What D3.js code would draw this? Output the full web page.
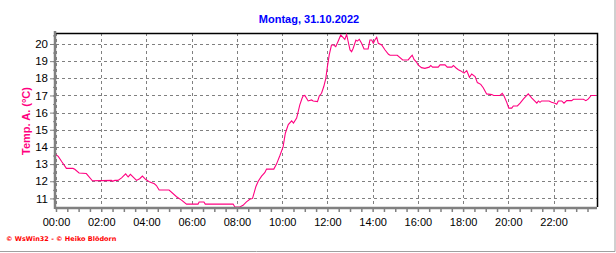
<!DOCTYPE html>
<html>
<head>
<meta charset="utf-8">
<script src="https://cdn.jsdelivr.net/npm/d3@7"></script>
<style>
  body { margin: 0; background: #fff; }
  svg { display: block; }
</style>
</head>
<body>
<svg id="chart" width="616" height="253"></svg>
<script>
// Uhrzeit in Stunden, Temperatur aussen in °C
const hours = [
  0.00, 0.10, 0.25, 0.46, 0.75, 0.83, 1.02, 1.34, 1.61, 2.45, 2.50, 2.60, 2.74, 2.90,
  3.08, 3.19, 3.29, 3.56, 3.70, 3.82, 3.97, 4.15, 4.35, 4.44, 4.56, 5.00, 5.33, 5.55,
  5.77, 6.28, 6.33, 6.54, 6.60, 7.83, 7.91, 8.13, 8.27, 8.42, 8.57, 8.69, 8.84, 8.94,
  9.09, 9.23, 9.31, 9.63, 9.75, 9.90, 10.04, 10.14, 10.27, 10.42, 10.50, 10.64, 10.78,
  10.88, 10.93, 11.00, 11.15, 11.30, 11.37, 11.56, 11.64, 11.74, 11.84, 11.93, 12.00,
  12.08, 12.18, 12.28, 12.37, 12.48, 12.59, 12.70, 12.77, 12.85, 12.92, 13.00, 13.07,
  13.14, 13.26, 13.32, 13.41, 13.51, 13.62, 13.80, 13.88, 13.96, 14.03, 14.10, 14.18,
  14.25, 14.40, 14.55, 14.70, 14.77, 15.09, 15.33, 15.57, 15.68, 15.75, 15.83, 15.94,
  16.01, 16.16, 16.31, 16.50, 16.57, 16.65, 16.90, 16.98, 17.20, 17.30, 17.50, 17.57,
  17.69, 17.79, 17.90, 18.04, 18.16, 18.28, 18.38, 18.53, 18.63, 18.78, 18.89, 19.04,
  19.27, 19.35, 19.63, 19.73, 19.81, 19.93, 20.02, 20.15, 20.22, 20.40, 20.52, 20.67,
  20.88, 21.04, 21.26, 21.33, 21.40, 21.47, 21.80, 21.91, 22.06, 22.14, 22.21, 22.36,
  22.46, 22.58, 22.80, 22.88, 23.32, 23.43, 23.54, 23.66, 23.88
];
const temps = [
  13.55, 13.45, 13.15, 12.75, 12.75, 12.70, 12.48, 12.45, 12.03, 12.05, 12.00, 12.05, 12.05, 12.20,
  12.43, 12.25, 12.40, 12.05, 12.15, 12.30, 12.10, 11.95, 11.85, 11.75, 11.49, 11.49, 11.10, 10.90,
  10.67, 10.67, 10.79, 10.79, 10.67, 10.67, 10.50, 10.50, 10.60, 10.80, 10.95, 11.00, 11.70, 12.00,
  12.30, 12.50, 12.71, 12.71, 13.00, 13.50, 14.00, 14.80, 15.30, 15.52, 15.39, 15.68, 16.45,
  16.84, 16.98, 17.00, 16.68, 16.74, 16.68, 16.64, 16.97, 17.13, 17.52, 18.00, 18.68,
  19.36, 19.94, 19.94, 19.84, 20.17, 20.52, 20.37, 20.27, 20.56, 20.13, 19.65, 19.55,
  19.75, 20.23, 20.17, 20.27, 20.04, 19.71, 19.71, 20.23, 20.23, 20.04, 20.23, 20.39,
  20.04, 19.94, 19.65, 19.40, 19.34, 19.34, 19.07, 19.07, 19.25, 19.35, 19.10, 18.95,
  18.78, 18.62, 18.58, 18.65, 18.75, 18.65, 18.65, 18.78, 18.78, 18.65, 18.65, 18.75,
  18.60, 18.50, 18.43, 18.30, 18.45, 18.06, 18.25, 18.10, 17.75, 17.65, 17.45, 17.09,
  17.05, 17.00, 17.00, 17.12, 16.97, 16.60, 16.26, 16.26, 16.39, 16.39, 16.55, 16.80,
  17.09, 16.85, 16.55, 16.68, 16.60, 16.68, 16.68, 16.60, 16.55, 16.49, 16.68, 16.68,
  16.55, 16.70, 16.70, 16.78, 16.78, 16.70, 16.80, 17.00, 17.00
];
const xTicks = [0, 2, 4, 6, 8, 10, 12, 14, 16, 18, 20, 22];
const yTicks = [11, 12, 13, 14, 15, 16, 17, 18, 19, 20];
const title = "Montag, 31.10.2022";
const yLabel = "Temp. A. (°C)";
const footer = "© WsWin32 - © Heiko Blödorn";

const svg = d3.select("#chart");
const pL = 56, pR = 597, pT = 33, pB = 207;

const x = d3.scaleLinear().domain([0, 23.92]).range([pL, pR]);
const y = d3.scaleLinear().domain([10.5, 20.64]).range([pB, pT]);

const pad = n => String(n).padStart(2, "0");

// Gitter
svg.append("g")
  .attr("transform", `translate(0,${pT})`)
  .call(d3.axisTop(x).tickValues(xTicks).tickSize(-(pB - pT)).tickFormat(""))
  .call(g => g.select(".domain").remove())
  .call(g => g.selectAll("line").attr("stroke", "#808080").attr("stroke-dasharray", "3,3")
    .attr("shape-rendering", "crispEdges"));

svg.append("g")
  .attr("transform", `translate(${pL},0)`)
  .call(d3.axisLeft(y).tickValues(yTicks).tickSize(-(pR - pL)).tickFormat(""))
  .call(g => g.select(".domain").remove())
  .call(g => g.selectAll("line").attr("stroke", "#808080").attr("stroke-dasharray", "3,3")
    .attr("shape-rendering", "crispEdges"));

// Rahmen oben / rechts
svg.append("path")
  .attr("d", `M${pL},${pT + 0.5}H${pR + 0.5}V${pB}`)
  .attr("fill", "none").attr("stroke", "#000").attr("stroke-width", 1.5);

// Kurve
const line = d3.line()
  .x((d, i) => x(hours[i]))
  .y(d => y(d));

svg.append("path")
  .datum(temps)
  .attr("d", line)
  .attr("fill", "none")
  .attr("stroke", "#ff0080")
  .attr("stroke-width", 1.1);

// x-Achse
const xMinor = d3.range(0, 24, 0.5);
svg.append("g").attr("transform", `translate(0,${pB + 1})`)
  .call(d3.axisBottom(x).tickValues(xMinor).tickSize(4).tickFormat(""))
  .call(g => g.selectAll("line").attr("stroke", "#808080").attr("stroke-width", 1.5))
  .call(g => g.select(".domain").attr("stroke", "#808080").attr("stroke-width", 2.5)
    .attr("d", `M${pL - 1},0H${pR}`));
svg.append("g").attr("transform", `translate(0,${pB + 1})`)
  .call(d3.axisBottom(x).tickValues(xTicks).tickSize(0).tickPadding(10)
    .tickFormat(d => pad(d) + ":00"))
  .call(g => g.select(".domain").remove())
  .call(g => g.selectAll("text").attr("fill", "#000")
    .attr("font-family", "'Liberation Sans', Arial, sans-serif").attr("font-size", 11));

// y-Achse
const yMinor = d3.range(11, 20.6, 0.5);
svg.append("g").attr("transform", `translate(${pL - 1},0)`)
  .call(d3.axisLeft(y).tickValues(yMinor).tickSize(2).tickFormat(""))
  .call(g => g.selectAll("line").attr("stroke", "#808080"))
  .call(g => g.select(".domain").attr("stroke", "#808080").attr("stroke-width", 2.5)
    .attr("d", `M0,${pT - 2}V${pB + 2}`));
svg.append("g").attr("transform", `translate(${pL - 1},0)`)
  .call(d3.axisLeft(y).tickValues(yTicks).tickSize(5).tickPadding(2).tickFormat(d => d))
  .call(g => g.select(".domain").remove())
  .call(g => g.selectAll("line").attr("stroke", "#808080"))
  .call(g => g.selectAll("text").attr("fill", "#000")
    .attr("font-family", "'Liberation Sans', Arial, sans-serif").attr("font-size", 11.5));

// Titel
svg.append("text")
  .attr("x", 309).attr("y", 23)
  .attr("text-anchor", "middle")
  .attr("font-family", "'Liberation Sans', Arial, sans-serif")
  .attr("font-size", 11).attr("font-weight", "bold")
  .attr("fill", "#0000ff")
  .text(title);

// Achsenbeschriftung
svg.append("text")
  .attr("transform", "translate(30,121) rotate(-90)")
  .attr("text-anchor", "middle")
  .attr("font-family", "'Liberation Sans', Arial, sans-serif")
  .attr("font-size", 11).attr("font-weight", "bold")
  .attr("fill", "#ff0080")
  .text(yLabel);

// Copyright
svg.append("text")
  .attr("x", 6).attr("y", 241)
  .attr("font-family", "'DejaVu Sans', sans-serif")
  .attr("font-size", 6.5).attr("font-weight", "bold")
  .attr("fill", "#ff0000")
  .text(footer);

// aeusserer Rahmen
svg.append("path")
  .attr("d", "M615,0V251.5H0")
  .attr("fill", "none").attr("stroke", "#a0a0a0").attr("stroke-width", 1);
</script>
</body>
</html>
